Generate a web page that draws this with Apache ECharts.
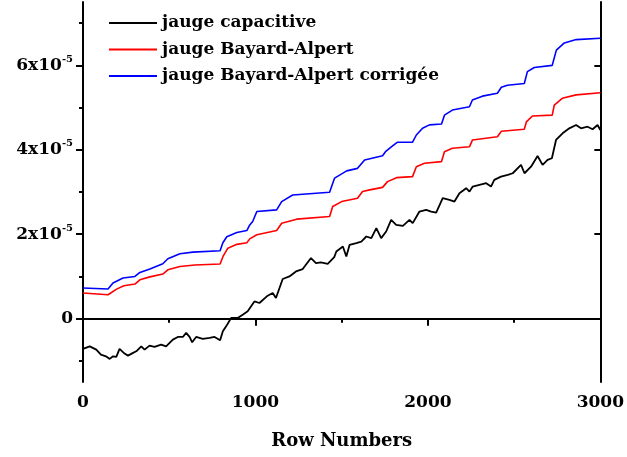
<!DOCTYPE html>
<html lang="fr">
<head>
    <meta charset="UTF-8">
    <title>Jauges</title>
    <script src="https://cdn.jsdelivr.net/npm/echarts@6/dist/echarts.min.js"></script>
    <style>
        html, body { margin: 0; padding: 0; background: #fff; }
        #chart { width: 627px; height: 457px; }
    </style>
</head>
<body>
    <div id="chart"></div>
    <script>
        // values in units of 1e-5 (axis reads "n x10^-5")
        var capRows = [0,39,77,104,133,155,174,193,212,241,261,290,309,338,357,386,415,453,482,521,550,579,598,618,633,656,695,734,763,795,811,830,859,897,926,955,994,1023,1071,1100,1119,1158,1197,1235,1274,1322,1351,1380,1419,1457,1469,1507,1527,1546,1585,1614,1643,1672,1701,1729,1758,1787,1816,1855,1893,1912,1951,1990,2019,2048,2086,2125,2154,2183,2222,2241,2260,2299,2338,2366,2385,2424,2463,2492,2540,2560,2598,2636,2665,2694,2719,2743,2781,2820,2859,2888,2926,2955,2984,3000];
        var capValues = [-0.716,-0.655,-0.733,-0.851,-0.891,-0.953,-0.891,-0.905,-0.716,-0.827,-0.875,-0.811,-0.773,-0.655,-0.733,-0.638,-0.669,-0.615,-0.655,-0.496,-0.433,-0.433,-0.338,-0.433,-0.560,-0.433,-0.480,-0.456,-0.433,-0.513,-0.300,-0.182,0.017,0.017,0.095,0.173,0.409,0.371,0.544,0.608,0.489,0.939,1.0,1.118,1.175,1.435,1.317,1.331,1.300,1.459,1.591,1.709,1.473,1.749,1.790,1.827,1.946,1.908,2.144,1.908,2.064,2.340,2.222,2.199,2.340,2.262,2.537,2.577,2.537,2.513,2.853,2.813,2.773,2.972,3.090,3.009,3.128,3.168,3.208,3.128,3.286,3.364,3.404,3.444,3.641,3.444,3.600,3.853,3.641,3.759,3.799,4.232,4.390,4.508,4.586,4.508,4.546,4.485,4.586,4.468];

        var baRows = [0,145,195,237,301,330,388,463,492,562,649,795,812,840,892,950,967,1008,1123,1152,1239,1430,1448,1500,1592,1621,1662,1737,1766,1818,1911,1933,1980,2079,2096,2142,2241,2258,2403,2426,2559,2571,2606,2721,2733,2779,2860,3000];
        var baValues = [0.608,0.567,0.70,0.78,0.82,0.92,0.99,1.057,1.158,1.236,1.27,1.293,1.473,1.67,1.76,1.80,1.89,1.986,2.087,2.26,2.357,2.42,2.655,2.773,2.853,3.01,3.05,3.11,3.246,3.34,3.364,3.60,3.68,3.72,3.955,4.035,4.07,4.23,4.31,4.44,4.485,4.66,4.80,4.82,5.06,5.22,5.30,5.35];

        var bacRows = [0,145,174,232,301,330,388,463,492,562,637,795,811,834,892,950,967,984,1008,1123,1152,1216,1430,1459,1529,1592,1633,1737,1754,1795,1824,1911,1933,1969,2009,2079,2096,2142,2241,2258,2316,2403,2426,2461,2559,2577,2617,2721,2745,2791,2860,3000];
        var bacValues = [0.726,0.704,0.844,0.962,1.0,1.095,1.175,1.30,1.418,1.537,1.577,1.608,1.797,1.939,2.04,2.087,2.22,2.30,2.537,2.577,2.773,2.93,2.995,3.33,3.50,3.56,3.76,3.86,3.955,4.09,4.18,4.18,4.35,4.51,4.59,4.61,4.82,4.94,5.02,5.18,5.27,5.34,5.48,5.53,5.57,5.85,5.95,6.00,6.36,6.53,6.61,6.64];

        var seriesNames = ['jauge capacitive', 'jauge Bayard-Alpert', 'jauge Bayard-Alpert corrigée'];
        var seriesColors = ['#000000', '#ff0000', '#0000ff'];
        var yLabels = [0, 2, 4, 6];
        var yMinor = [-1, 1, 3, 5, 7];

        function pairs(xs, ys) {
            var out = [];
            for (var i = 0; i < xs.length; i++) out.push([xs[i], ys[i]]);
            return out;
        }

        var font = 'DejaVu Serif';
        var axisLine = { show: true, lineStyle: { color: '#000', width: 2 } };

        var mychart = echarts.init(document.getElementById('chart'));
        var option = {
            animation: false,
            grid: { left: 83, right: 25, top: 2, bottom: 75 },
            legend: {
                orient: 'vertical',
                left: 109,
                top: 13,
                padding: 0,
                icon: 'rect',
                itemWidth: 48,
                itemHeight: 2,
                itemGap: 6.5,
                textStyle: { fontFamily: font, fontWeight: 'bold', fontSize: 17, lineHeight: 20, color: '#000' },
                data: seriesNames
            },
            xAxis: [{
                type: 'value',
                min: 0, max: 3000, interval: 1000,
                name: 'Row Numbers',
                nameLocation: 'middle',
                nameGap: 50,
                nameTextStyle: { fontFamily: font, fontWeight: 'bold', fontSize: 18, color: '#000' },
                axisLine: axisLine,
                axisTick: { show: true, length: 7, lineStyle: { color: '#000', width: 2 } },
                minorTick: { show: true, splitNumber: 2, length: 4, lineStyle: { color: '#000', width: 2 } },
                axisLabel: {
                    fontFamily: font, fontWeight: 'bold', fontSize: 17, color: '#000', margin: 12,
                    formatter: function (v) { return String(v); }
                },
                splitLine: { show: false }
            }, {
                type: 'value', position: 'top',
                min: 0, max: 3000,
                axisLine: axisLine,
                axisTick: { show: false },
                axisLabel: { show: false },
                splitLine: { show: false }
            }],
            yAxis: [{
                type: 'value',
                min: -1.5, max: 7.5,
                axisLine: axisLine,
                axisTick: { show: true, length: 7, customValues: yLabels, lineStyle: { color: '#000', width: 2 } },
                axisLabel: {
                    customValues: yLabels,
                    margin: 10,
                    color: '#000',
                    formatter: function (v) {
                        return v === 0 ? '{b|0}' : '{b|' + v + 'x10}{s|-5}';
                    },
                    rich: {
                        b: { fontFamily: font, fontWeight: 'bold', fontSize: 17, lineHeight: 22, color: '#000' },
                        s: { fontFamily: font, fontWeight: 'bold', fontSize: 10, lineHeight: 12, verticalAlign: 'top', color: '#000' }
                    }
                },
                splitLine: { show: false }
            }, {
                type: 'value', position: 'left',
                min: -1.5, max: 7.5,
                axisLine: { show: false },
                axisTick: { show: true, length: 4, customValues: yMinor, lineStyle: { color: '#000', width: 2 } },
                axisLabel: { show: false },
                splitLine: { show: false }
            }, {
                type: 'value', position: 'right',
                min: -1.5, max: 7.5,
                axisLine: axisLine,
                axisTick: { show: true, inside: true, length: 6, customValues: yLabels, lineStyle: { color: '#000', width: 2 } },
                axisLabel: { show: false },
                splitLine: { show: false }
            }],
            series: [{
                name: seriesNames[0], type: 'line', symbol: 'none',
                lineStyle: { color: seriesColors[0], width: 1.8 }, itemStyle: { color: seriesColors[0] },
                data: pairs(capRows, capValues)
            }, {
                name: seriesNames[1], type: 'line', symbol: 'none',
                lineStyle: { color: seriesColors[1], width: 1.6 }, itemStyle: { color: seriesColors[1] },
                data: pairs(baRows, baValues)
            }, {
                name: seriesNames[2], type: 'line', symbol: 'none',
                lineStyle: { color: seriesColors[2], width: 1.6 }, itemStyle: { color: seriesColors[2] },
                data: pairs(bacRows, bacValues)
            }]
        };
        mychart.setOption(option);
    </script>
</body>
</html>
